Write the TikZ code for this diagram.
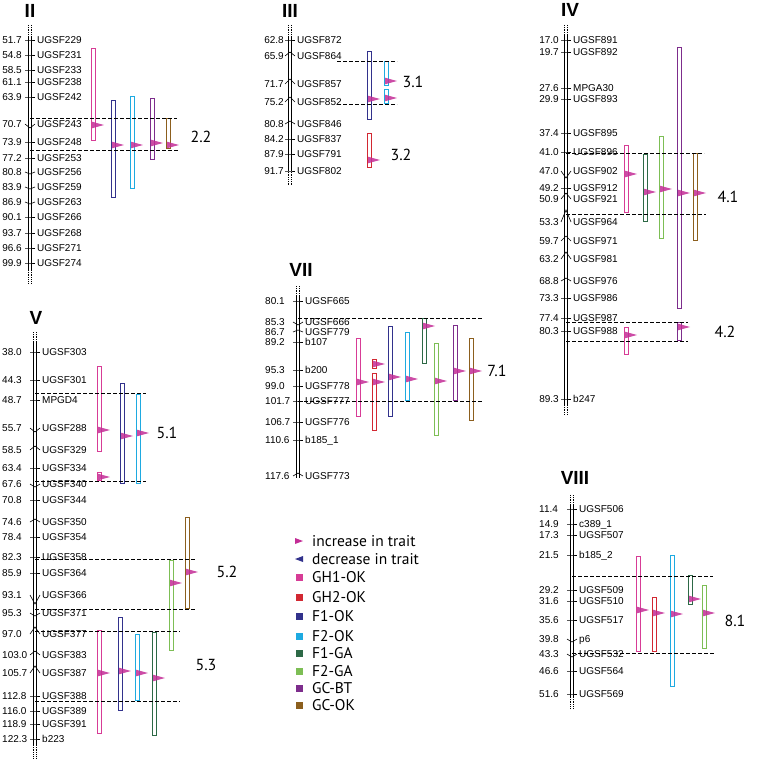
\documentclass[tikz,border=0pt]{standalone}
\usepackage{fontspec}
\setmainfont{Liberation Sans}
\setsansfont{Liberation Sans}
\newfontfamily\legfont{PT Sans}
\usepackage{tikz}
\usepackage{xcolor}
\definecolor{gh1}{RGB}{215,60,150}
\definecolor{gh2}{RGB}{210,40,50}
\definecolor{f1ok}{RGB}{50,50,140}
\definecolor{f2ok}{RGB}{30,170,225}
\definecolor{f1ga}{RGB}{45,105,70}
\definecolor{f2ga}{RGB}{125,190,85}
\definecolor{gcbt}{RGB}{125,45,140}
\definecolor{gcok}{RGB}{140,95,30}
\definecolor{incrc}{RGB}{195,45,150}
\newcommand{\mkfont}{\fontsize{10}{12}\selectfont\sffamily}
\tikzset{
  chr/.style={line width=0.7pt,black},
  chrdot/.style={chr,dash pattern=on 0.8pt off 1pt},
  tickln/.style={line width=0.6pt,black},
  cmlab/.style={font=\mkfont,inner sep=0pt,text height=7.2pt,text depth=0pt},
  mklab/.style={cmlab,anchor=west},
  bar/.style={line width=1.4pt,fill=white},
  incr/.style={fill=incrc,fill opacity=0.85},
  qtlline/.style={line width=0.6pt,dash pattern=on 3.5pt off 2.5pt},
  chrtitle/.style={font=\fontsize{19}{22}\selectfont\bfseries\sffamily,inner sep=0pt},
  qtlab/.style={font=\legfont\fontsize{16}{18}\selectfont,inner sep=0pt},
  leg/.style={font=\legfont\fontsize{15.5}{18}\selectfont,anchor=west,inner sep=0pt,
    text height=10.5pt,text depth=0pt},
}
% chromosome: axis x, dotted top, solid top, solid bottom, dotted bottom
\newcommand{\chrom}[5]{%
  \draw[chrdot] (#1-1.8,#2) -- (#1-1.8,#3) (#1+1.8,#2) -- (#1+1.8,#3);
  \draw[chr] (#1-1.8,#3) -- (#1-1.8,#4) (#1+1.8,#3) -- (#1+1.8,#4);
  \draw[chrdot] (#1-1.8,#4) -- (#1-1.8,#5) (#1+1.8,#4) -- (#1+1.8,#5);}
% marker: [bend] y, cM, name
\newcommand{\mk}[4][0]{%
  \draw[tickln] (\ax-5,#2) -- (\ax,#2+#1) -- (\ax+5,#2);
  \node[cmlab] (p\ax-#2) at (\cmx,#2) {#3};
  \node[mklab] (m\ax-#2) at (\ax+7,#2) {#4};}
% qtl bar: colour, left x, top, bottom, arrow y
\newcommand{\qtl}[5]{%
  \draw[bar,draw=#1] (#2+0.7,#3+0.7) rectangle (#2+4.3,#4-0.7);
  \fill[incr] (#2+1,#5-3.3) -- (#2+13,#5) -- (#2+1,#5+3.3) -- cycle;}

\begin{document}
\begin{tikzpicture}[x=1pt,y=-1pt]
\useasboundingbox (0,0) rectangle (757,759);

% ---- II ----
\node[chrtitle] (tII) at (30,11) {II};
\chrom{30}{25}{37}{270}{283}
\begin{scope}[cmlab/.append style={anchor=east}]
\def\ax{30}\def\cmx{22}
\mk{40}{51.7}{UGSF229}
\mk{55}{54.8}{UGSF231}
\mk{70}{58.5}{UGSF233}
\mk{82}{61.1}{UGSF238}
\mk{97}{63.9}{UGSF242}
\mk[4]{124}{70.7}{UGSF243}
\mk{142}{73.9}{UGSF248}
\mk{158}{77.2}{UGSF253}
\mk[2]{172}{80.8}{UGSF256}
\mk[2]{187}{83.9}{UGSF259}
\mk[2]{202}{86.9}{UGSF263}
\mk{217}{90.1}{UGSF266}
\mk{233}{93.7}{UGSF268}
\mk{248}{96.6}{UGSF271}
\mk{263}{99.9}{UGSF274}
\end{scope}
\qtl{gh1}{91}{48}{141}{125}
\qtl{f1ok}{111}{100}{198}{145}
\qtl{f2ok}{130}{96}{189}{145}
\qtl{gcbt}{150}{98}{160}{143}
\qtl{gcok}{166}{118}{149}{145}
\draw[qtlline] (30,118) -- (177,118) (30,150) -- (178,150);
\node[qtlab] (q22) at (201,137) {2.2};

% ---- III ----
\node[chrtitle] (tIII) at (290,11) {III};
\chrom{290}{25}{36}{170}{185}
\begin{scope}[cmlab/.append style={anchor=east}]
\def\ax{290}\def\cmx{284}
\mk{40}{62.8}{UGSF872}
\mk[-4]{56}{65.9}{UGSF864}
\mk[-5]{84}{71.7}{UGSF857}
\mk[-5]{102}{75.2}{UGSF852}
\mk[-3]{124}{80.8}{UGSF846}
\mk{139}{84.2}{UGSF837}
\mk{154}{87.9}{UGSF791}
\mk{171}{91.7}{UGSF802}
\end{scope}
\qtl{f1ok}{367}{51}{120}{99}
\qtl{f2ok}{384}{61}{86}{81}
\qtl{f2ok}{384}{89}{104}{98}
\qtl{gh2}{367}{133}{168}{160}
\draw[qtlline] (337,61) -- (397,61) (337,104) -- (397,104);
\node[qtlab] (q31) at (413,82) {3.1};
\node[qtlab] (q32) at (401,155) {3.2};

% ---- IV ----
\node[chrtitle] (tIV) at (570,10) {IV};
\chrom{566}{25}{35}{405}{415}
\begin{scope}[cmlab/.append style={anchor=east}]
\def\ax{566}\def\cmx{559}
\mk{40}{17.0}{UGSF891}
\mk{52}{19.7}{UGSF892}
\mk{88}{27.6}{MPGA30}
\mk{99}{29.9}{UGSF893}
\mk{133}{37.4}{UGSF895}
\mk{152}{41.0}{UGSF896}
\mk[7]{171}{47.0}{UGSF902}
\mk{188}{49.2}{UGSF912}
\mk[-6]{199}{50.9}{UGSF921}
\mk[-12]{222}{53.3}{UGSF964}
\mk[-5]{241}{59.7}{UGSF971}
\mk[-7]{259}{63.2}{UGSF981}
\mk[-3]{281}{68.8}{UGSF976}
\mk{298}{73.3}{UGSF986}
\mk{318}{77.4}{UGSF987}
\mk{331}{80.3}{UGSF988}
\mk{399}{89.3}{b247}
\end{scope}
\qtl{gh1}{624}{145}{213}{174}
\qtl{f1ga}{643}{154}{222}{192}
\qtl{f2ga}{659}{136}{239}{189}
\qtl{gcbt}{677}{47}{309}{193}
\qtl{gcok}{693}{153}{241}{193}
\qtl{gh1}{624}{327}{355}{335}
\qtl{gcbt}{677}{322}{341}{327}
\draw[qtlline] (566,153) -- (704,153) (566,214) -- (706,214);
\draw[qtlline] (566,322) -- (688,322) (566,341) -- (688,341);
\node[qtlab] (q41) at (728,197) {4.1};
\node[qtlab] (q42) at (725,332) {4.2};

% ---- V ----
\node[chrtitle] (tV) at (36,318) {V};
\chrom{35}{332}{342}{745}{759}
\begin{scope}[cmlab/.append style={anchor=west}]
\def\ax{35}\def\cmx{2}
\mk{352}{38.0}{UGSF303}
\mk{380}{44.3}{UGSF301}
\mk{400}{48.7}{MPGD4}
\mk[4]{428}{55.7}{UGSF288}
\mk[-4]{450}{58.5}{UGSF329}
\mk{468}{63.4}{UGSF334}
\mk[3]{484}{67.6}{UGSF340}
\mk{500}{70.8}{UGSF344}
\mk[-3]{522}{74.6}{UGSF350}
\mk{537}{78.4}{UGSF354}
\mk{557}{82.3}{UGSF358}
\mk{573}{85.9}{UGSF364}
\mk[9]{595}{93.1}{UGSF366}
\mk[3]{613}{95.3}{UGSF371}
\mk[-7]{634}{97.0}{UGSF377}
\mk[-4]{655}{103.0}{UGSF383}
\mk[-7]{673}{105.7}{UGSF387}
\mk{696}{112.8}{UGSF388}
\mk{711}{116.0}{UGSF389}
\mk{724}{118.9}{UGSF391}
\mk{739}{122.3}{b223}
\end{scope}
\qtl{gh1}{97}{366}{452}{430}
\qtl{gh1}{97}{472}{481}{477}
\qtl{f1ok}{120}{383}{484}{436}
\qtl{f2ok}{136}{394}{484}{433}
\draw[qtlline] (35,393) -- (146,393) (35,481) -- (146,481);
\qtl{gcok}{185}{517}{609}{572}
\qtl{f2ga}{169}{560}{651}{583}
\draw[qtlline] (35,559) -- (196,559) (35,609) -- (196,609);
\qtl{gh1}{97}{630}{734}{673}
\qtl{f1ok}{118}{617}{711}{671}
\qtl{f2ok}{135}{634}{701}{673}
\qtl{f1ga}{152}{632}{736}{678}
\draw[qtlline] (35,631) -- (180,631) (35,701) -- (180,701);
\node[qtlab] (q51) at (167,433) {5.1};
\node[qtlab] (q52) at (227,572) {5.2};
\node[qtlab] (q53) at (206,665) {5.3};

% ---- VII ----
\node[chrtitle] (tVII) at (301,270) {VII};
\chrom{298}{286}{296}{478}{478}
\begin{scope}[cmlab/.append style={anchor=west}]
\def\ax{298}\def\cmx{265}
\mk{301}{80.1}{UGSF665}
\mk[3]{322}{85.3}{UGSF666}
\mk[-2]{332}{86.7}{UGSF779}
\mk{342}{89.2}{b107}
\mk{370}{95.3}{b200}
\mk{386}{99.0}{UGSF778}
\mk{401}{101.7}{UGSF777}
\mk{422}{106.7}{UGSF776}
\mk{440}{110.6}{b185\_1}
\mk[-3]{476}{117.6}{UGSF773}
\end{scope}
\qtl{gh1}{356}{338}{417}{382}
\qtl{gh2}{372}{359}{369}{364}
\qtl{gh2}{372}{373}{431}{382}
\qtl{f1ok}{388}{326}{417}{377}
\qtl{f2ok}{405}{332}{401}{379}
\qtl{f1ga}{422}{318}{364}{326}
\qtl{f2ga}{434}{343}{436}{381}
\qtl{gcbt}{453}{325}{401}{371}
\qtl{gcok}{469}{338}{421}{371}
\draw[qtlline] (298,318) -- (482,318) (298,401) -- (482,401);
\node[qtlab] (q71) at (497,371) {7.1};

% ---- VIII ----
\node[chrtitle] (tVIII) at (575,478) {VIII};
\chrom{572}{495}{505}{697}{708}
\begin{scope}[cmlab/.append style={anchor=west}]
\def\ax{572}\def\cmx{539}
\mk{509}{11.4}{UGSF506}
\mk{524}{14.9}{c389\_1}
\mk{535}{17.3}{UGSF507}
\mk{555}{21.5}{b185\_2}
\mk{590}{29.2}{UGSF509}
\mk{601}{31.6}{UGSF510}
\mk{620}{35.6}{UGSF517}
\mk[3]{639}{39.8}{p6}
\mk[3]{654}{43.3}{UGSF532}
\mk{671}{46.6}{UGSF564}
\mk{694}{51.6}{UGSF569}
\end{scope}
\qtl{gh1}{636}{556}{652}{610}
\qtl{gh2}{652}{597}{652}{613}
\qtl{f2ok}{670}{555}{687}{614}
\qtl{f1ga}{688}{575}{605}{599}
\qtl{f2ga}{702}{585}{649}{613}
\draw[qtlline] (572,576) -- (713,576) (572,653) -- (715,653);
\node[qtlab] (q81) at (735,621) {8.1};

% ---- legend ----
\fill[incrc] (295,538) -- (303,541) -- (295,544) -- cycle;
\node[leg] (lincr) at (312,541) {increase in trait};
\fill[f1ok] (303,556) -- (295,559) -- (303,562) -- cycle;
\node[leg] (ldecr) at (312,559) {decrease in trait};
\foreach \col/\txt/\yy in {gh1/GH1-OK/577, gh2/GH2-OK/597, f1ok/F1-OK/616,
    f2ok/F2-OK/636, f1ga/F1-GA/653, f2ga/F2-GA/671, gcbt/GC-BT/688, gcok/GC-OK/705}{
  \fill[\col] (296,\yy-3.5) rectangle (303,\yy+3.5);
  \node[leg] (l\txt) at (312,\yy) {\txt};
}
\end{tikzpicture}
\end{document}
